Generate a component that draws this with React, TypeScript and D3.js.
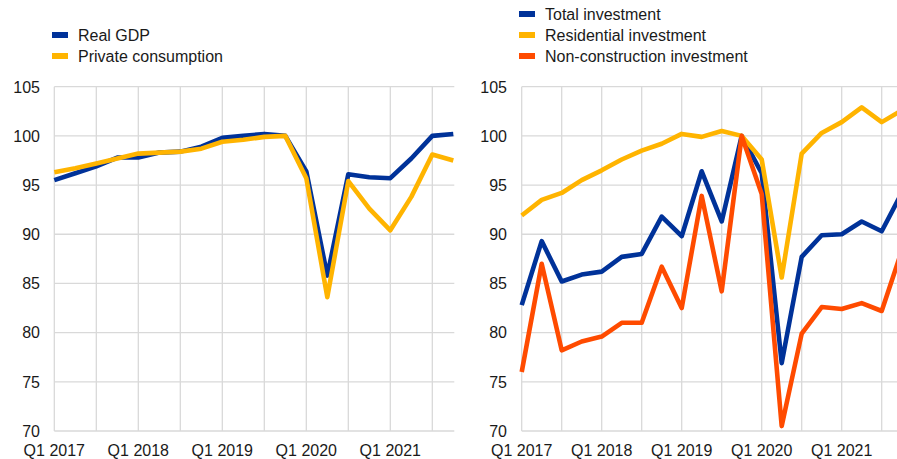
import React from "react";
import * as d3 from "d3";

const quarters = [
  "Q1 2017","Q2 2017","Q3 2017","Q4 2017",
  "Q1 2018","Q2 2018","Q3 2018","Q4 2018",
  "Q1 2019","Q2 2019","Q3 2019","Q4 2019",
  "Q1 2020","Q2 2020","Q3 2020","Q4 2020",
  "Q1 2021","Q2 2021","Q3 2021","Q4 2021",
];

const realGDP = [95.5, 96.2, 96.9, 97.8, 97.8, 98.3, 98.4, 98.9, 99.8, 100.0, 100.2, 100.0, 96.4, 85.8, 96.1, 95.8, 95.7, 97.7, 100.0, 100.2];
const privateConsumption = [96.3, 96.7, 97.2, 97.7, 98.2, 98.3, 98.4, 98.7, 99.4, 99.6, 99.9, 100.0, 95.7, 83.6, 95.4, 92.6, 90.4, 93.8, 98.1, 97.5];

const totalInvestment = [82.8, 89.3, 85.2, 85.9, 86.2, 87.7, 88.0, 91.8, 89.8, 96.4, 91.3, 100.0, 96.2, 76.9, 87.7, 89.9, 90.0, 91.3, 90.3, 94.2];
const residentialInvestment = [91.9, 93.5, 94.2, 95.5, 96.5, 97.6, 98.5, 99.2, 100.2, 99.9, 100.5, 100.0, 97.6, 85.6, 98.2, 100.3, 101.4, 102.9, 101.4, 102.6];
const nonConstructionInvestment = [76.0, 87.0, 78.2, 79.1, 79.6, 81.0, 81.0, 86.7, 82.5, 93.9, 84.2, 100.0, 94.1, 70.5, 79.9, 82.6, 82.4, 83.0, 82.2, 88.3];

const yTicks = [70, 75, 80, 85, 90, 95, 100, 105];

const BLUE = "#003299";
const YELLOW = "#FFB400";
const ORANGE = "#FF4B00";
const GRID = "#d9d9d9";
const TEXT = "#1a1a1a";
const FONT = "'Liberation Sans', Arial, sans-serif";

type Series = { name: string; values: number[]; color: string };

function Panel(props: {
  id: string;
  x0: number;
  step: number;
  labelRight: number;
  clipRight: number;
  series: Series[];
  legendX: number;
  legendY: number;
}) {
  const { id, x0, step, labelRight, clipRight, series, legendX, legendY } = props;
  const n = quarters.length;
  const x = d3.scaleLinear().domain([0, n - 1]).range([x0, x0 + step * (n - 1)]);
  const plotRight = x0 + step * (n - 1) + 1;
  const y = d3.scaleLinear().domain([70, 105]).range([431, 86.7]);
  const line = d3
    .line<number>()
    .x((_, i) => x(i))
    .y((d) => y(d));
  const vIdx = d3.range(0, n, 2);
  const labIdx = d3.range(0, n, 4);
  return (
    <g>
      <defs>
        <clipPath id={id}>
          <rect x={0} y={0} width={clipRight} height={459} />
        </clipPath>
      </defs>
      <g clipPath={`url(#${id})`}>
        {yTicks.map((t) => (
          <line key={"h" + t} x1={x0} x2={plotRight} y1={y(t)} y2={y(t)} stroke={GRID} strokeWidth={1.3} />
        ))}
        {vIdx.map((i) => (
          <line key={"v" + i} x1={x(i)} x2={x(i)} y1={y(105)} y2={y(70)} stroke={GRID} strokeWidth={1.3} />
        ))}
        {series.map((s) => (
          <path
            key={s.name}
            d={line(s.values) || ""}
            fill="none"
            stroke={s.color}
            strokeWidth={4.6}
            strokeLinejoin="round"
          />
        ))}
      </g>
      {yTicks.map((t) => (
        <text key={"yl" + t} x={labelRight} y={y(t) + 5.8} textAnchor="end" fontSize={16} fill={TEXT} fontFamily={FONT}>
          {t}
        </text>
      ))}
      {labIdx.map((i) => (
        <text key={"xl" + i} x={x(i)} y={455.5} textAnchor="middle" fontSize={16} fill={TEXT} fontFamily={FONT}>
          {quarters[i]}
        </text>
      ))}
      {series.map((s, k) => (
        <g key={"lg" + s.name}>
          <rect x={legendX} y={legendY + k * 21 - 3} width={16} height={6} fill={s.color} />
          <text x={legendX + 26} y={legendY + k * 21 + 5.8} fontSize={16} fill={TEXT} fontFamily={FONT}>
            {s.name}
          </text>
        </g>
      ))}
    </g>
  );
}

export default function App() {
  return (
    <svg
      width={897}
      height={459}
      style={{ position: "absolute", left: 0, top: 0, background: "#fff" }}
    >
      <rect x={0} y={0} width={897} height={459} fill="#fff" />
      <Panel
        id="clipL"
        x0={54.3}
        step={21}
        labelRight={40}
        clipRight={456}
        legendX={52}
        legendY={35}
        series={[
          { name: "Real GDP", values: realGDP, color: BLUE },
          { name: "Private consumption", values: privateConsumption, color: YELLOW },
        ]}
      />
      <Panel
        id="clipR"
        x0={521.7}
        step={20}
        labelRight={507}
        clipRight={897}
        legendX={519}
        legendY={14}
        series={[
          { name: "Total investment", values: totalInvestment, color: BLUE },
          { name: "Residential investment", values: residentialInvestment, color: YELLOW },
          { name: "Non-construction investment", values: nonConstructionInvestment, color: ORANGE },
        ]}
      />
    </svg>
  );
}
